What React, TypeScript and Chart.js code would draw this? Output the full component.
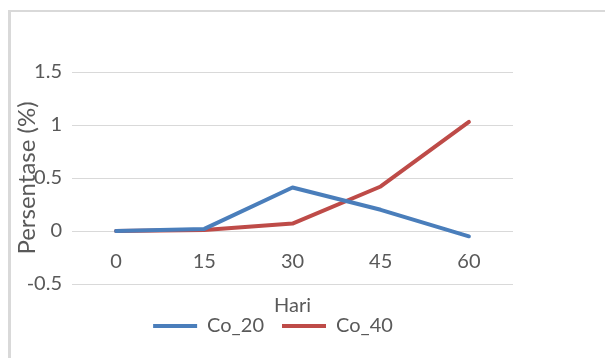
import React, { useEffect, useRef } from "react";
import { Chart, registerables } from "chart.js";

Chart.register(...registerables);

// Days of observation and measured percentages
const hari = ["0", "15", "30", "45", "60"];
const co20 = [0, 0.02, 0.41, 0.2, -0.05];
const co40 = [0, 0.01, 0.07, 0.42, 1.03];

const yMin = -0.5;
const yMax = 1.5;
const yStep = 0.5;

const FONT = "Lato, 'Open Sans', sans-serif";
const TEXT = "#595959";
const GRID = "#d9d9d9";

// Axis titles painted beside the plot area (y title overlaps the tick column)
const axisTitles = {
  id: "axisTitles",
  afterDraw(chart: Chart) {
    const { ctx, chartArea } = chart;
    ctx.save();
    ctx.fillStyle = TEXT;
    ctx.textAlign = "center";
    ctx.textBaseline = "middle";
    ctx.font = `24px ${FONT}`;
    ctx.translate(16, (chartArea.top + chartArea.bottom) / 2);
    ctx.rotate(-Math.PI / 2);
    ctx.fillText("Persentase (%)", 0, 0);
    ctx.restore();

    ctx.save();
    ctx.fillStyle = TEXT;
    ctx.textAlign = "center";
    ctx.textBaseline = "middle";
    ctx.font = `20px ${FONT}`;
    ctx.fillText("Hari", (chartArea.left + chartArea.right) / 2, chartArea.bottom + 22);
    ctx.restore();
  },
};

export default function App() {
  const canvasRef = useRef<HTMLCanvasElement>(null);

  useEffect(() => {
    if (!canvasRef.current) return;
    const chart = new Chart(canvasRef.current, {
      type: "line",
      data: {
        labels: hari,
        datasets: [
          {
            label: "Co_20",
            data: co20,
            xAxisID: "x",
            yAxisID: "y",
            borderColor: "#4a7ebb",
            backgroundColor: "#4a7ebb",
            borderWidth: 4,
            pointRadius: 0,
            borderCapStyle: "round",
            borderJoinStyle: "round",
            tension: 0,
          },
          {
            label: "Co_40",
            data: co40,
            xAxisID: "x",
            yAxisID: "y",
            borderColor: "#be4b48",
            backgroundColor: "#be4b48",
            borderWidth: 4,
            pointRadius: 0,
            borderCapStyle: "round",
            borderJoinStyle: "round",
            tension: 0,
          },
        ],
      },
      options: {
        animation: false,
        responsive: false,
        maintainAspectRatio: false,
        layout: { padding: { top: 60, right: 70, bottom: 12, left: 0 } },
        scales: {
          x: {
            type: "category",
            position: { y: 0 },
            offset: true,
            grid: { display: false, drawTicks: false },
            border: { display: false },
            ticks: { color: TEXT, font: { family: FONT, size: 20 }, padding: 19 },
          },
          y: {
            min: yMin,
            max: yMax,
            grid: { color: GRID, lineWidth: 1, drawTicks: false },
            border: { display: false },
            ticks: {
              stepSize: yStep,
              color: TEXT,
              font: { family: FONT, size: 20 },
              padding: 10,
              callback: (v: any) => String(Number(v)),
            },
            afterFit: (scale: any) => {
              scale.width = 61;
            },
          },
          // empty band between the plot and the legend
          xSpace: {
            type: "category",
            position: "bottom",
            labels: hari,
            grid: { display: false, drawTicks: false },
            border: { display: false },
            ticks: { display: false },
            afterFit: (scale: any) => {
              scale.height = 14;
            },
          },
          // empty margin on the right of the plot
          yRight: {
            type: "linear",
            position: "right",
            grid: { display: false, drawTicks: false },
            border: { display: false },
            ticks: { display: false },
            afterFit: (scale: any) => {
              scale.width = 22;
            },
          },
        },
        plugins: {
          legend: {
            position: "bottom",
            labels: {
              usePointStyle: true,
              pointStyle: "line",
              pointStyleWidth: 44,
              color: TEXT,
              font: { family: FONT, size: 20 },
              padding: 18,
            },
          },
          tooltip: { enabled: false },
        },
      },
      plugins: [axisTitles],
    });
    return () => chart.destroy();
  }, []);

  return (
    <div
      style={{
        position: "fixed",
        left: 8,
        top: 10,
        width: 597,
        height: 348,
        boxSizing: "border-box",
        borderTop: "2px solid #d9d9d9",
        borderLeft: "3px solid #d9d9d9",
        background: "#fff",
      }}
    >
      <canvas ref={canvasRef} width={594} height={346} style={{ display: "block" }} />
    </div>
  );
}
